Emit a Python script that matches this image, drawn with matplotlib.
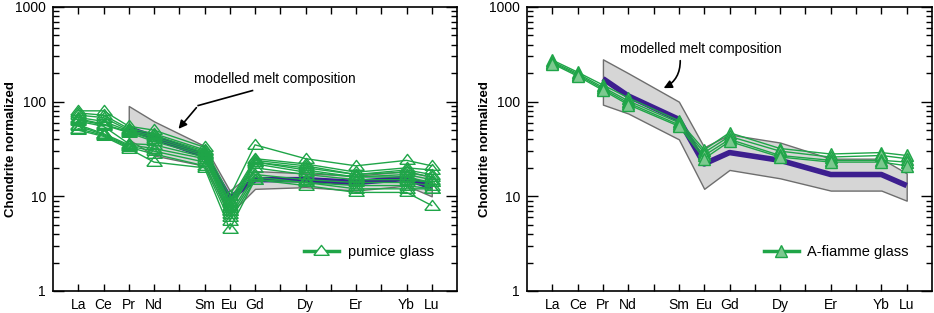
import numpy as np
import matplotlib as mpl
mpl.use('Agg')
import matplotlib.pyplot as plt
from matplotlib.lines import Line2D

plt.rcParams['font.family'] = ['Liberation Sans', 'DejaVu Sans']

# REE, atomic numbers used as x positions
elements = ['La', 'Ce', 'Pr', 'Nd', 'Sm', 'Eu', 'Gd', 'Dy', 'Er', 'Yb', 'Lu']
znum = [57, 58, 59, 60, 62, 63, 64, 66, 68, 70, 71]

# left panel: pumice glass (chondrite normalized)
pumice = [
    [80, 80, 55, 50, 33, 10.0, 35, 25, 21, 24, 21],
    [76, 72, 52, 46, 31, 9.0, 25, 22, 18, 20, 19],
    [72, 68, 50, 44, 30, 8.5, 24, 21, 17, 19, 17],
    [68, 62, 49, 42, 29, 8.0, 23, 20, 17, 18, 16],
    [66, 58, 48, 40, 28, 7.5, 23, 19, 16, 17, 15],
    [64, 57, 47, 38, 27, 7.0, 22, 18, 16, 16, 14],
    [62, 55, 36, 35, 26, 7.0, 20, 17, 15, 15, 14],
    [57, 46, 35, 32, 25, 6.5, 17, 15, 14, 14, 13],
    [55, 45, 34, 30, 23, 6.0, 16, 14, 13, 13, 12],
    [52, 44, 33, 28, 21, 5.5, 15, 14, 12, 12, 12],
    [50, 43, 32, 23, 20, 4.5, 15, 13, 11, 11, 8],
]
melt_left = [52, 42, 27, 9.5, 15, 15, 14, 15.5, 12.5]
band_left_hi = [90, 62, 34, 11.5, 18.5, 17.5, 16.5, 18.5, 16]
band_left_lo = [40, 27, 21, 6.5, 12, 12.5, 11.5, 13, 10]

# right panel: A-fiamme glass
fiamme = [
    [275, 205, 150, 110, 63, 31, 47, 32, 28, 29, 27],
    [265, 198, 142, 102, 60, 29, 43, 30, 26, 27, 25],
    [258, 192, 137, 97, 57, 27, 40, 27, 24, 24, 23],
    [252, 186, 132, 93, 55, 25, 38, 26, 23, 23, 21],
]
melt_right = [175, 115, 65, 22, 29, 24, 17, 17, 13]
band_right_hi = [280, 200, 100, 33, 45, 37, 25, 25, 17.5]
band_right_lo = [93, 75, 40, 12, 19, 15.5, 11.5, 11.5, 9]

green = '#1fa548'
purple = '#3d1f8f'
flat_tri = [(-1, -0.5), (1, -0.5), (0, 0.8), (-1, -0.5)]

fig = plt.figure(figsize=(9.34, 3.13), dpi=100)
axL = fig.add_axes([53/934, 22/313, 404/934, 284/313])
axR = fig.add_axes([527/934, 22/313, 405/934, 284/313])


def setup(ax):
    ax.set_yscale('log')
    ax.set_ylim(1, 1000)
    ax.set_xlim(56, 72)
    ax.set_xticks(range(57, 72))
    labs = []
    for z in range(57, 72):
        labs.append(elements[znum.index(z)] if z in znum else '')
    ax.set_xticklabels(labs, fontsize=10)
    ax.set_yticks([1, 10, 100, 1000])
    ax.set_yticklabels(['1', '10', '100', '1000'], fontsize=10)
    ax.tick_params(which='major', direction='in', length=8, width=1.0,
                   top=True, right=True, pad=5)
    ax.tick_params(which='minor', direction='in', length=4.5, width=1.0,
                   top=False, right=True, bottom=False)
    ax.tick_params(axis='x', which='major', length=5)
    ax.set_ylabel('Chondrite normalized', fontsize=9.5, fontweight='bold')
    ax.yaxis.set_label_coords(-0.09, 0.5)
    for s in ax.spines.values():
        s.set_linewidth(1.2)


def panel(ax, samples, melt, hi, lo, filled, legend_label):
    zb = znum[2:]
    ax.fill_between(zb, lo, hi, facecolor='#d6d6d6', edgecolor='#6e6e6e',
                    linewidth=1.0, zorder=1)
    ax.plot(zb, melt, color=purple, lw=4, solid_capstyle='butt', zorder=2)
    for s in samples:
        if filled:
            ax.plot(znum, s, color=green, lw=1.0, marker='^', ms=9,
                    mfc='#7cc98f', mec=green, mew=1.0, zorder=3)
        else:
            ax.plot(znum, s, color=green, lw=1.0, marker=flat_tri, ms=11,
                    mfc='none', mec=green, mew=1.0, zorder=3)
    if filled:
        h = Line2D([], [], color=green, lw=2.5, marker='^', ms=9,
                   mfc='#7cc98f', mec=green, mew=1.0)
    else:
        h = Line2D([], [], color=green, lw=2.5, marker=flat_tri, ms=11,
                   mfc='white', mec=green, mew=1.0)
    ax.legend([h], [legend_label], loc='lower right', frameon=False,
              fontsize=10.5, handlelength=2.4, handletextpad=0.6,
              bbox_to_anchor=(0.975, 0.065))


setup(axL)
setup(axR)
panel(axL, pumice, melt_left, band_left_hi, band_left_lo, False,
      'pumice glass')
panel(axR, fiamme, melt_right, band_right_hi, band_right_lo, True,
      'A-fiamme glass')

# annotations
axL.text(64.8, 175, 'modelled melt composition', fontsize=9.8,
         ha='center', va='center')
axL.plot([63.9, 61.75], [131, 91], color='black', lw=1.2, zorder=5)
axL.annotate('', xy=(60.9, 49), xytext=(61.75, 91),
             arrowprops=dict(arrowstyle='-|>', color='black', lw=1.2,
                             mutation_scale=12), zorder=5)

axR.text(62.85, 364, 'modelled melt composition', fontsize=9.8,
         ha='center', va='center')
axR.annotate('', xy=(61.3, 135), xytext=(62.05, 290),
             arrowprops=dict(arrowstyle='-|>', color='black', lw=1.2,
                             mutation_scale=12,
                             connectionstyle='arc3,rad=-0.35'), zorder=5)

plt.savefig('out.png', dpi=100)
